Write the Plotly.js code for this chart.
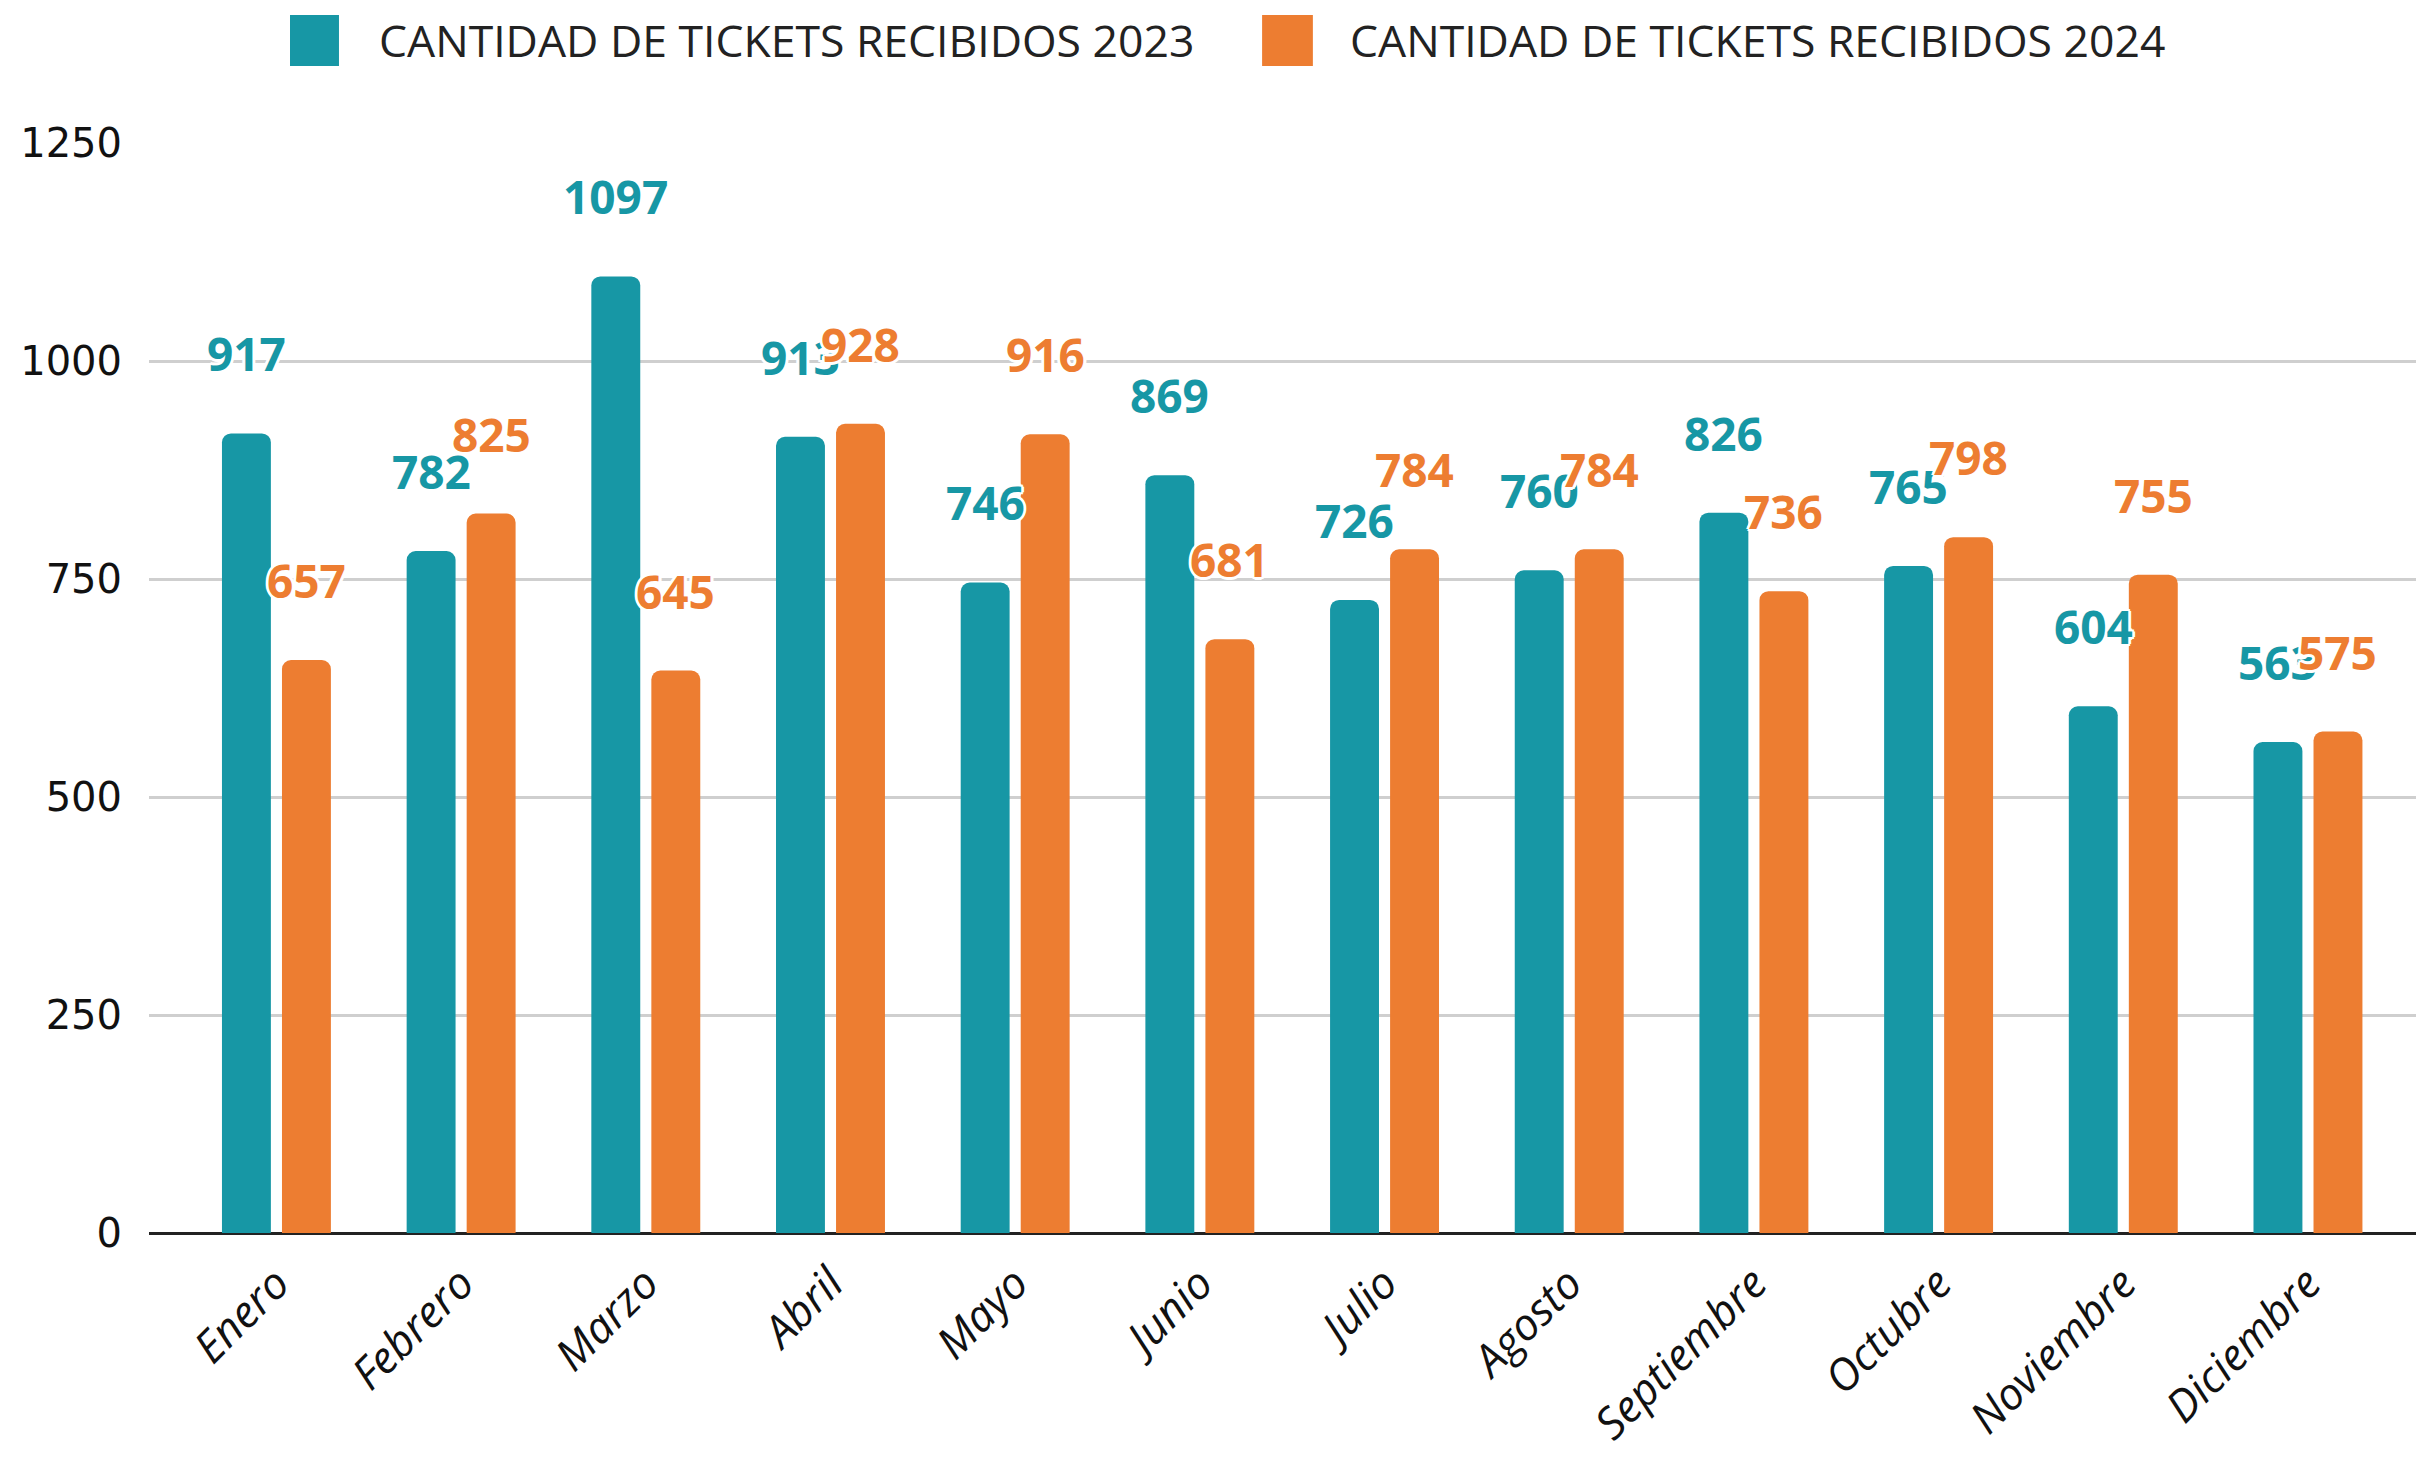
<!DOCTYPE html>
<html>
<head>
<meta charset="utf-8">
<script src="https://cdn.plot.ly/plotly-3.0.1.min.js"></script>
<style>
  html, body { margin: 0; padding: 0; background: #fff; }
  #chart { width: 2416px; height: 1460px; }
</style>
</head>
<body>
<div id="chart"></div>
<script>
const months = ["Enero","Febrero","Marzo","Abril","Mayo","Junio","Julio","Agosto","Septiembre","Octubre","Noviembre","Diciembre"];
const tickets2023 = [917, 782, 1097, 913, 746, 869, 726, 760, 826, 765, 604, 563];
const tickets2024 = [657, 825, 645, 928, 916, 681, 784, 784, 736, 798, 755, 575];
const seriesNames = ["CANTIDAD DE TICKETS RECIBIDOS 2023", "CANTIDAD DE TICKETS RECIBIDOS 2024"];
const yTicks = [0, 250, 500, 750, 1000, 1250];

const teal = "#1797a5";
const orange = "#ed7d31";

const traces = [
  { type: "bar", name: seriesNames[0], x: months, y: tickets2023,
    marker: { color: teal, cornerradius: 9 }, hoverinfo: "x+y" },
  { type: "bar", name: seriesNames[1], x: months, y: tickets2024,
    marker: { color: orange, cornerradius: 9 }, hoverinfo: "x+y" }
];

const whiteHalo = "3px 0 0 #fff, -3px 0 0 #fff, 0 3px 0 #fff, 0 -3px 0 #fff, 2px 2px 0 #fff, -2px -2px 0 #fff, 2px -2px 0 #fff, -2px 2px 0 #fff";
const labelFont = (c) => ({ family: "Open Sans, sans-serif", size: 46, weight: 700, color: c, shadow: whiteHalo });

const annotations = [];
const slotOffset = 0.1625;
tickets2023.forEach((v, i) => annotations.push({
  x: i - slotOffset, y: v, xref: "x", yref: "y", text: String(v), showarrow: false,
  yshift: 80, xanchor: "center", yanchor: "middle", font: labelFont(teal)
}));
tickets2024.forEach((v, i) => annotations.push({
  x: i + slotOffset, y: v, xref: "x", yref: "y", text: String(v), showarrow: false,
  yshift: 80, xanchor: "center", yanchor: "middle", font: labelFont(orange)
}));

// manual legend
const legendFont = { family: "Open Sans, sans-serif", size: 44.5, color: "#222" };
annotations.push({ xref: "paper", yref: "paper", x: 0.1006, y: 1.0945, xanchor: "left", yanchor: "middle",
  text: seriesNames[0], showarrow: false, font: legendFont });
annotations.push({ xref: "paper", yref: "paper", x: 0.5289, y: 1.0945, xanchor: "left", yanchor: "middle",
  text: seriesNames[1], showarrow: false, font: legendFont });

const shapes = [
  { type: "rect", xref: "paper", yref: "paper", x0: 0.0622, x1: 0.0838, y0: 1.0706, y1: 1.1174,
    fillcolor: teal, line: { width: 0 } },
  { type: "rect", xref: "paper", yref: "paper", x0: 0.4910, x1: 0.5134, y0: 1.0706, y1: 1.1174,
    fillcolor: orange, line: { width: 0 } }
];

const layout = {
  width: 2416, height: 1460,
  margin: { l: 149, r: 0, t: 143, b: 227 },
  paper_bgcolor: "#fff", plot_bgcolor: "#fff",
  showlegend: false,
  barmode: "group", bargap: 0.35, bargroupgap: 0.185,
  xaxis: {
    type: "category",
    range: [-0.69, 11.585],
    tickangle: -45,
    tickfont: { family: "Open Sans, sans-serif", size: 44, style: "italic", color: "#111" },
    showgrid: false, ticks: "outside", ticklen: 6, tickcolor: "rgba(0,0,0,0)",
    showline: false, zeroline: false
  },
  yaxis: {
    range: [0, 1250],
    tickvals: yTicks, ticktext: yTicks.map(String),
    tickfont: { family: "DejaVu Sans, sans-serif", size: 40, color: "#111" },
    showgrid: true, gridcolor: "#cfcfcf", gridwidth: 3,
    zeroline: true, zerolinecolor: "#222", zerolinewidth: 3,
    ticks: "outside", ticklen: 18, tickcolor: "rgba(0,0,0,0)",
    showline: false
  },
  annotations: annotations,
  shapes: shapes
};

Plotly.newPlot("chart", traces, layout, { displayModeBar: false, staticPlot: true });
</script>
</body>
</html>
